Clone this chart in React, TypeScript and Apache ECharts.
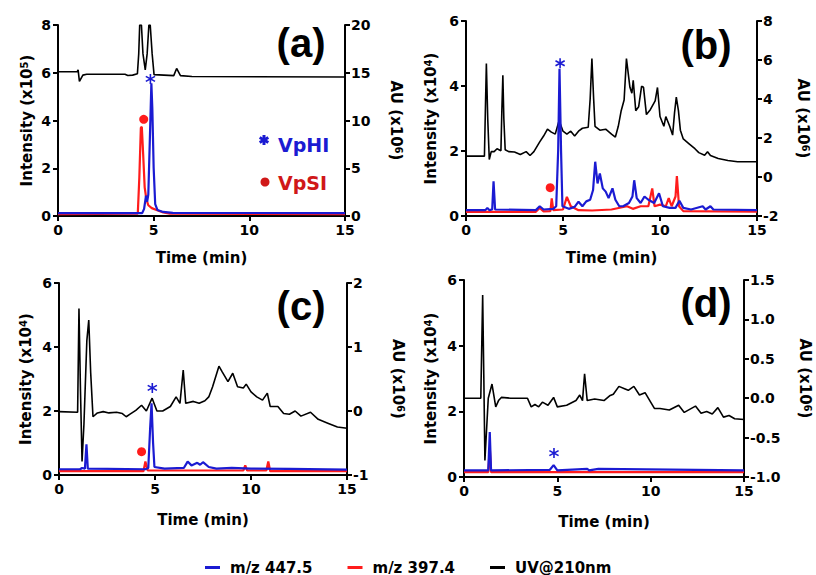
import React, { useEffect, useRef } from 'react';
import * as echarts from 'echarts';

// ---------- data (time in min) ----------
// Panel (a)
const aUV = [[0,15.1],[1.0,15.1],[1.05,15.3],[1.12,14.1],[1.3,14.75],[1.5,14.85],[3.5,14.85],[3.65,14.72],[3.9,14.75],[4.15,14.9],[4.22,17],[4.27,20],[4.36,20],[4.44,17],[4.56,15.3],[4.66,17],[4.75,20],[4.82,20],[4.92,17],[5.02,14.8],[6.05,14.7],[6.2,15.45],[6.4,14.7],[7,14.6],[15,14.55]];
const aRed = [[0,0.08],[4.17,0.1],[4.25,1.6],[4.33,3.7],[4.38,3.74],[4.45,2.6],[4.53,1.2],[4.62,0.7],[4.72,0.45],[4.9,0.33],[5.15,0.25],[5.5,0.15],[5.85,0.1],[15,0.08]];
const aBlue = [[0,0.12],[4.4,0.12],[4.5,0.3],[4.6,0.85],[4.66,0.6],[4.72,0.9],[4.8,3.2],[4.88,5.56],[4.93,4.5],[5.0,2.0],[5.08,0.5],[5.2,0.25],[5.5,0.17],[6,0.13],[15,0.12]];
const aStar = [[4.83, 5.74]];
const aDot = [[4.48, 4.05]];

// Panel (b)
const bUV = [[0,1.07],[0.95,1.07],[1.0,3.5],[1.05,5.82],[1.12,3],[1.2,0.9],[1.3,1.3],[1.45,1.3],[1.6,1.45],[1.8,1.35],[1.85,3.5],[1.9,5.22],[1.95,3],[2.02,1.4],[2.2,1.3],[2.5,1.28],[2.8,1.15],[3.1,1.3],[3.3,1.1],[3.5,1.3],[3.8,1.8],[4.0,2.1],[4.2,2.45],[4.4,2.3],[4.6,2.2],[4.8,2.9],[5.0,2.35],[5.2,2.2],[5.4,2.35],[5.6,2.1],[5.8,2.35],[6.0,2.5],[6.3,2.55],[6.4,4.0],[6.49,6.07],[6.58,4.0],[6.65,2.6],[6.9,2.4],[7.2,2.45],[7.5,2.2],[7.7,2.05],[7.85,2.6],[8.0,3.4],[8.15,3.95],[8.27,6.07],[8.45,4.6],[8.55,4.3],[8.62,4.96],[8.75,3.4],[8.9,3.6],[9.05,4.65],[9.15,4.6],[9.3,3.2],[9.5,3.45],[9.75,3.9],[9.87,4.59],[10.0,3.1],[10.2,2.6],[10.3,3.1],[10.5,2.6],[10.65,2.15],[10.75,3.3],[10.84,4.1],[10.95,3.4],[11.05,2.4],[11.2,1.95],[11.5,1.7],[11.8,1.45],[12.0,1.25],[12.3,1.12],[12.45,1.3],[12.6,1.1],[13.0,0.95],[13.5,0.85],[14.0,0.78],[15,0.78]];
const bBlue = [[0,0.18],[1.0,0.18],[1.1,0.25],[1.2,0.18],[1.35,0.2],[1.42,1.07],[1.5,0.2],[3.6,0.18],[3.8,0.3],[4.0,0.2],[4.5,0.22],[4.65,0.3],[4.75,2.0],[4.82,4.53],[4.9,2.0],[4.97,0.3],[5.3,0.22],[5.6,0.28],[5.8,0.44],[6.0,0.3],[6.2,0.45],[6.4,0.5],[6.55,0.8],[6.66,1.67],[6.78,1.0],[6.9,1.31],[7.05,0.85],[7.2,0.75],[7.35,0.55],[7.55,0.85],[7.7,0.5],[7.9,0.3],[8.1,0.3],[8.4,0.4],[8.58,0.6],[8.67,1.1],[8.8,0.55],[9.0,0.4],[9.2,0.6],[9.4,0.5],[9.7,0.4],[9.95,0.7],[10.15,0.3],[10.5,0.25],[10.8,0.25],[11.0,0.47],[11.2,0.25],[11.6,0.2],[12.2,0.3],[12.35,0.2],[12.6,0.3],[12.75,0.2],[15,0.18]];
const bRed = [[0,0.13],[3.6,0.13],[3.8,0.25],[4.0,0.14],[4.35,0.15],[4.42,0.54],[4.5,0.18],[5.0,0.2],[5.2,0.59],[5.4,0.3],[5.8,0.18],[6.5,0.17],[7.5,0.2],[8.3,0.3],[8.6,0.22],[9.0,0.3],[9.4,0.3],[9.6,0.85],[9.72,0.3],[10.0,0.35],[10.3,0.3],[10.45,0.55],[10.6,0.3],[10.8,0.6],[10.87,1.23],[10.98,0.3],[11.2,0.15],[15,0.13]];
const bStar = [[4.85, 4.7]];
const bDot = [[4.34, 0.87]];

// Panel (c)
const cUV = [[0,-0.01],[0.97,-0.02],[1.04,1.6],[1.12,0.3],[1.2,-0.79],[1.3,-0.2],[1.45,1.1],[1.55,1.42],[1.65,0.6],[1.77,-0.09],[2.0,-0.03],[2.3,-0.01],[2.6,-0.03],[3.0,-0.02],[3.3,-0.04],[3.5,-0.09],[3.7,-0.05],[4.0,0.01],[4.3,0.09],[4.55,0.0],[4.85,0.2],[5.1,0.0],[5.4,0.0],[5.8,0.07],[6.1,0.22],[6.3,0.12],[6.47,0.64],[6.6,0.12],[7.0,0.15],[7.3,0.12],[7.6,0.16],[7.8,0.22],[8.0,0.38],[8.33,0.7],[8.5,0.61],[8.8,0.46],[9.05,0.59],[9.3,0.38],[9.6,0.36],[9.75,0.42],[10.0,0.3],[10.3,0.22],[10.6,0.17],[10.85,0.28],[11.0,0.07],[11.4,0.07],[11.7,-0.04],[12.0,-0.05],[12.3,0.0],[12.6,-0.08],[13.1,-0.02],[13.5,-0.13],[14.0,-0.19],[14.5,-0.25],[15,-0.27]];
const cBlue = [[0,0.18],[1.1,0.18],[1.2,0.22],[1.35,0.2],[1.43,0.96],[1.5,0.2],[4.5,0.18],[4.65,0.22],[4.75,1.5],[4.82,2.24],[4.9,1.0],[4.97,0.25],[5.5,0.2],[6.5,0.22],[6.7,0.42],[6.9,0.3],[7.2,0.38],[7.35,0.32],[7.5,0.4],[7.8,0.25],[8.2,0.2],[9.0,0.22],[10,0.2],[12,0.19],[15,0.17]];
const cRed = [[0,0.12],[4.4,0.12],[4.5,0.42],[4.62,0.14],[9.6,0.14],[9.7,0.3],[9.8,0.14],[10.8,0.14],[10.9,0.42],[11.0,0.12],[15,0.12]];
const cStar = [[4.86, 2.72]];
const cDot = [[4.3, 0.73]];

// Panel (d)
const dUV = [[0,0.0],[0.9,0.0],[1.0,1.31],[1.06,0.3],[1.12,-0.79],[1.3,0.0],[1.5,0.18],[1.7,-0.11],[1.85,-0.03],[2.0,0.01],[2.5,0.0],[3.4,0.0],[3.6,-0.11],[3.8,-0.08],[4.0,-0.11],[4.2,-0.05],[4.5,-0.09],[4.8,0.01],[5.0,-0.11],[5.5,-0.09],[6.0,-0.03],[6.2,0.04],[6.35,-0.03],[6.46,0.31],[6.6,-0.03],[7.0,-0.01],[7.5,-0.03],[7.8,0.03],[8.0,0.05],[8.3,0.15],[8.6,0.12],[8.8,0.1],[9.1,0.15],[9.4,0.04],[9.7,0.07],[10.0,-0.05],[10.2,-0.13],[10.5,-0.13],[11.0,-0.15],[11.5,-0.09],[11.8,-0.18],[12.4,-0.1],[12.7,-0.19],[13.0,-0.17],[13.3,-0.2],[13.6,-0.12],[13.9,-0.24],[14.2,-0.22],[14.5,-0.26],[15,-0.27]];
const dBlue = [[0,0.2],[1.3,0.2],[1.38,1.37],[1.45,0.2],[4.6,0.22],[4.8,0.36],[5.0,0.2],[6.6,0.25],[6.7,0.2],[7.2,0.25],[15,0.2]];
const dRed = [[0,0.15],[1.3,0.15],[1.38,0.9],[1.45,0.15],[15,0.15]];
const dStar = [[4.82, 0.73]];

// axes
const xTicks = { min: 0, max: 15, interval: 5 };
const leftMax = [8, 6, 6, 6];
const leftExp = ['5', '4', '4', '4'];
const rightMin = [0, -2, -1, -1];
const rightMax = [20, 8, 2, 1.5];
const rightInterval = [5, 2, 1, 0.5];
const panelLabels = ['(a)', '(b)', '(c)', '(d)'];
const legendNames = ['m/z 447.5', 'm/z 397.4', 'UV@210nm'];

const BLUE = '#1b1bd2';
const RED = '#ff1c1c';
const DARKRED = '#d01818';
const FONT = 'DejaVu Sans';
const STAR = 'path://M8.5 0L11.5 0L11.5 20L8.5 20Z M17.91 3.7L19.41 6.3L2.09 16.3L0.59 13.7Z M0.59 6.3L2.09 3.7L19.41 13.7L17.91 16.3Z';

export default function App() {
  const ref = useRef<HTMLDivElement>(null);
  useEffect(() => {
    const chart = echarts.init(ref.current!, undefined, { renderer: 'svg' });
    const grids = [
      { left: 58, top: 25, width: 287, height: 191 },
      { left: 466, top: 21, width: 291, height: 195 },
      { left: 59, top: 283, width: 288, height: 192 },
      { left: 464, top: 280, width: 280, height: 197 },
    ];
    const rightGap = [43, 38, 43, 53];
    const leftGap = [24, 28, 26, 26];
    const xGap = [34, 34, 37, 37];
    const axisCommon = {
      axisLine: { show: true, onZero: false, lineStyle: { color: '#000', width: 2 } },
      axisTick: { show: true, inside: false, length: 5, lineStyle: { color: '#000', width: 2 } },
      splitLine: { show: false },
    };
    const labelStyle = { color: '#000', fontFamily: FONT, fontWeight: 'bold' as const, fontSize: 14 };
    const rich = {
      n: { fontFamily: FONT, fontWeight: 'bold', fontSize: 15, color: '#000' },
      s: { fontFamily: FONT, fontWeight: 'bold', fontSize: 10, color: '#000', verticalAlign: 'top' },
    };
    const xAxis = grids.map((_, i) => ({
      type: 'value', gridIndex: i, ...xTicks, ...axisCommon,
      axisLabel: { ...labelStyle, margin: 7 },
      name: 'Time (min)', nameLocation: 'middle', nameGap: xGap[i],
      nameTextStyle: { color: '#000', fontFamily: FONT, fontWeight: 'bold', fontSize: 15 },
    }));
    const yAxis: any[] = [];
    grids.forEach((_, i) => {
      yAxis.push({
        type: 'value', gridIndex: i, position: 'left', min: 0, max: leftMax[i], interval: 2, ...axisCommon,
        axisLabel: { ...labelStyle, margin: 7 },
        name: `{n|Intensity (x10}{s|${leftExp[i]}}{n|)}`, nameLocation: 'middle', nameRotate: 90, nameGap: leftGap[i],
        nameTextStyle: { rich },
      });
      yAxis.push({
        type: 'value', gridIndex: i, position: 'right', min: rightMin[i], max: rightMax[i], interval: rightInterval[i], ...axisCommon,
        axisLabel: { ...labelStyle, margin: 6, formatter: (v: number) => (rightInterval[i] < 1 ? v.toFixed(1) : String(v)) },
        name: '{n|AU (x10}{s|6}{n|)}', nameLocation: 'middle', nameRotate: -90, nameGap: rightGap[i],
        nameTextStyle: { rich },
      });
    });
    const uv = [aUV, bUV, cUV, dUV];
    const red = [aRed, bRed, cRed, dRed];
    const blue = [aBlue, bBlue, cBlue, dBlue];
    const stars = [aStar, bStar, cStar, dStar];
    const dots = [aDot, bDot, cDot, null];
    const series: any[] = [];
    grids.forEach((_, i) => {
      series.push({ type: 'line', name: 'UV@210nm', xAxisIndex: i, yAxisIndex: 2 * i + 1, data: uv[i], showSymbol: false, symbol: 'none', lineStyle: { color: '#000', width: 1.6 }, itemStyle: { color: '#000' } });
      series.push({ type: 'line', name: 'm/z 397.4', xAxisIndex: i, yAxisIndex: 2 * i, data: red[i], showSymbol: false, symbol: 'none', lineStyle: { color: RED, width: 2.2 }, itemStyle: { color: RED } });
      series.push({ type: 'line', name: 'm/z 447.5', xAxisIndex: i, yAxisIndex: 2 * i, data: blue[i], showSymbol: false, symbol: 'none', lineStyle: { color: BLUE, width: 2.2 }, itemStyle: { color: BLUE } });
      series.push({ type: 'scatter', name: 'star' + i, xAxisIndex: i, yAxisIndex: 2 * i, data: stars[i], symbol: STAR, symbolSize: 10, itemStyle: { color: BLUE, opacity: 1 } });
      if (dots[i]) series.push({ type: 'scatter', name: 'dot' + i, xAxisIndex: i, yAxisIndex: 2 * i, data: dots[i], symbol: 'circle', symbolSize: 9, itemStyle: { color: RED, opacity: 1 } });
    });
    const labelPos = [[301, 43], [706, 45], [301, 306], [706, 303]];
    const graphic: any[] = panelLabels.map((t, i) => ({
      type: 'text', x: labelPos[i][0], y: labelPos[i][1],
      style: { text: t, font: 'bold 40px "Liberation Sans"', fill: '#000', textAlign: 'center', textVerticalAlign: 'middle' },
    }));
    graphic.push({
      type: 'group', x: 264, y: 140,
      children: [0, Math.PI / 3, -Math.PI / 3].map((r) => ({
        type: 'rect', rotation: r, shape: { x: -1.5, y: -5, width: 3, height: 10 }, style: { fill: BLUE },
      })),
    });
    graphic.push({ type: 'text', x: 278, y: 145, style: { text: 'VpHI', font: `bold 19px "${FONT}"`, fill: BLUE, textAlign: 'left', textVerticalAlign: 'middle' } });
    graphic.push({ type: 'circle', shape: { cx: 265, cy: 182, r: 4.5 }, style: { fill: DARKRED } });
    graphic.push({ type: 'text', x: 278, y: 183, style: { text: 'VpSI', font: `bold 19px "${FONT}"`, fill: DARKRED, textAlign: 'left', textVerticalAlign: 'middle' } });

    chart.setOption({
      animation: false,
      backgroundColor: '#fff',
      grid: grids,
      xAxis, yAxis, series, graphic,
      legend: {
        data: legendNames, left: 200, top: 555, icon: 'rect', itemWidth: 15, itemHeight: 3, itemGap: 35,
        textStyle: { color: '#000', fontFamily: FONT, fontWeight: 'bold', fontSize: 15, padding: [0, 0, 0, 5] },
        selectedMode: false,
      },
    });
    return () => chart.dispose();
  }, []);
  return <div ref={ref} style={{ position: 'absolute', left: 0, top: 0, width: 816, height: 575 }} />;
}
